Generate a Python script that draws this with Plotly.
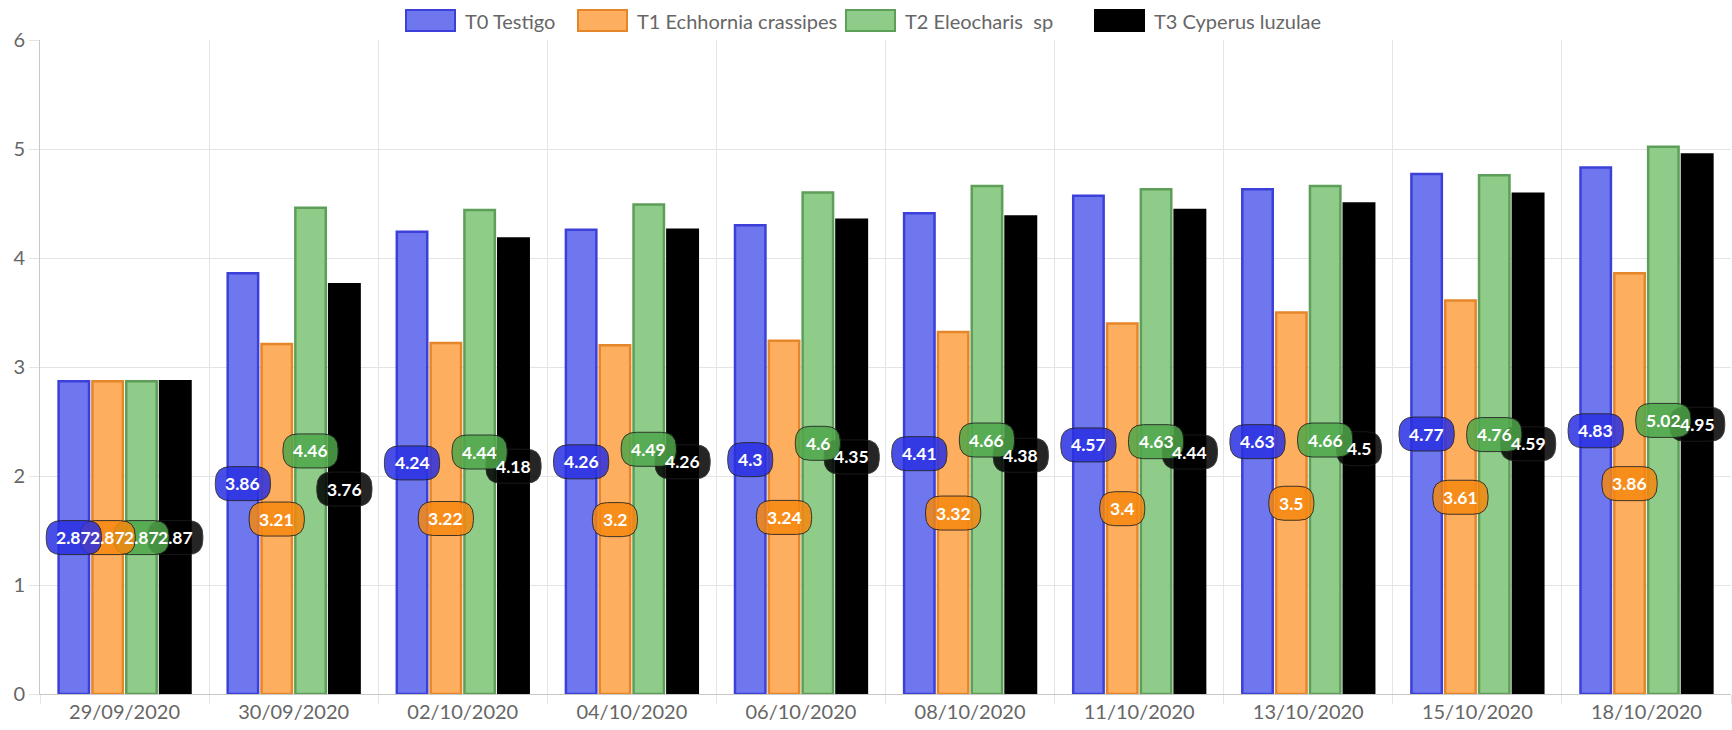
import plotly.graph_objects as go

# Sampling dates (x categories)
dates = ["29/09/2020", "30/09/2020", "02/10/2020", "04/10/2020", "06/10/2020",
         "08/10/2020", "11/10/2020", "13/10/2020", "15/10/2020", "18/10/2020"]

# Series values per treatment
t0_testigo = [2.87, 3.86, 4.24, 4.26, 4.3, 4.41, 4.57, 4.63, 4.77, 4.83]
t1_echhornia = [2.87, 3.21, 3.22, 3.2, 3.24, 3.32, 3.4, 3.5, 3.61, 3.86]
t2_eleocharis = [2.87, 4.46, 4.44, 4.49, 4.6, 4.66, 4.63, 4.66, 4.76, 5.02]
t3_cyperus = [2.87, 3.76, 4.18, 4.26, 4.35, 4.38, 4.44, 4.5, 4.59, 4.95]

series_names = ["T0 Testigo", "T1 Echhornia crassipes", "T2 Eleocharis\u00a0 sp", "T3 Cyperus luzulae"]
series_values = [t0_testigo, t1_echhornia, t2_eleocharis, t3_cyperus]

# Styling per series: bar fill, bar border, label fill
bar_fill = ["#6f77ee", "#fdae5e", "#8fcb89", "#000000"]
bar_line = ["#3c40d8", "#e6862a", "#5d9f58", "#000000"]
label_fill = ["#2a30e2", "#f7880f", "#4fa74a", "#000000"]

W, H = 1732, 730
M_L, M_R, M_T, M_B = 40, 1, 40, 36
FONT = "Lato"
TICK_COLOR = "#666666"
GRID = "#e4e4e4"

fig = go.Figure()
for name, vals, fc, lc in zip(series_names, series_values, bar_fill, bar_line):
    fig.add_trace(go.Bar(
        x=dates, y=vals, name=name, showlegend=False,
        marker=dict(color=fc, line=dict(color=lc, width=2.5)),
        hoverinfo="x+y",
    ))

# Value badges centred on each bar (rounded pills, pixel sized)
n_series = len(series_values)
group_width = 0.8
slot = group_width / n_series
char_w = {".": 0.27}
font_px = 17.5
pad_x, half_h, radius = 10, 17, 15


def pill_path(half_w, half_h, r):
    w, h = half_w, half_h
    return (f"M {-w + r},{-h} L {w - r},{-h} Q {w},{-h} {w},{-h + r} "
            f"L {w},{h - r} Q {w},{h} {w - r},{h} L {-w + r},{h} "
            f"Q {-w},{h} {-w},{h - r} L {-w},{-h + r} Q {-w},{-h} {-w + r},{-h} Z")


shapes = []
annotations = []
for si in reversed(range(n_series)):
    vals = series_values[si]
    offset = -group_width / 2 + slot * (si + 0.5)
    for ci, v in enumerate(vals):
        text = f"{v:g}"
        tw = sum(char_w.get(ch, 0.58) for ch in text) * font_px
        hw = tw / 2 + pad_x
        shapes.append(dict(
            type="path", xref="x", yref="y",
            xsizemode="pixel", ysizemode="pixel",
            xanchor=ci + offset, yanchor=v / 2,
            path=pill_path(hw, half_h, radius),
            fillcolor=label_fill[si], opacity=0.85,
            line=dict(color="#1e1e1e", width=1), layer="above",
        ))
for si in range(n_series):
    vals = series_values[si]
    offset = -group_width / 2 + slot * (si + 0.5)
    for ci, v in enumerate(vals):
        annotations.append(dict(
            x=ci + offset, y=v / 2, xref="x", yref="y",
            text=f"<b>{v:g}</b>", showarrow=False,
            font=dict(family=FONT, size=font_px, color="white"),
        ))

# Custom legend along the top (wide swatches)
plot_w = W - M_L - M_R
plot_h = H - M_T - M_B
legend_box_x = [406, 578, 846, 1095]
box_w, box_top, box_bot = 49, 10, 31
for name, fc, lc, bx in zip(series_names, bar_fill, bar_line, legend_box_x):
    shapes.append(dict(
        type="rect", xref="paper", yref="paper",
        x0=(bx - M_L) / plot_w, x1=(bx + box_w - M_L) / plot_w,
        y0=1 + (M_T - box_bot) / plot_h, y1=1 + (M_T - box_top) / plot_h,
        fillcolor=fc, line=dict(color=lc, width=2),
    ))
    annotations.append(dict(
        x=(bx + box_w + 8 - M_L) / plot_w, y=1 + (M_T - 20.5) / plot_h,
        xref="paper", yref="paper", xanchor="left", yanchor="middle",
        text=name, showarrow=False,
        font=dict(family=FONT, size=20, color=TICK_COLOR),
    ))

fig.update_layout(
    width=W, height=H,
    margin=dict(l=M_L, r=M_R, t=M_T, b=M_B, pad=0),
    paper_bgcolor="white", plot_bgcolor="white",
    barmode="group", bargap=0.2, bargroupgap=0.1,
    shapes=shapes, annotations=annotations,
    font=dict(family=FONT, color=TICK_COLOR),
    xaxis=dict(
        type="category", tickson="boundaries", showgrid=True, gridcolor=GRID, gridwidth=1,
        ticks="outside", ticklen=9, tickcolor=GRID,
        showline=True, linecolor="#c8c8c8", linewidth=1,
        tickfont=dict(family=FONT, size=20, color=TICK_COLOR),
    ),
    yaxis=dict(
        range=[0, 6], dtick=1, showgrid=True, gridcolor=GRID, gridwidth=1,
        ticks="outside", ticklen=10, tickcolor=GRID,
        showline=True, linecolor="#c8c8c8", linewidth=1, zeroline=False,
        tickfont=dict(family=FONT, size=20, color=TICK_COLOR),
    ),
)

fig.write_html("out.html")
